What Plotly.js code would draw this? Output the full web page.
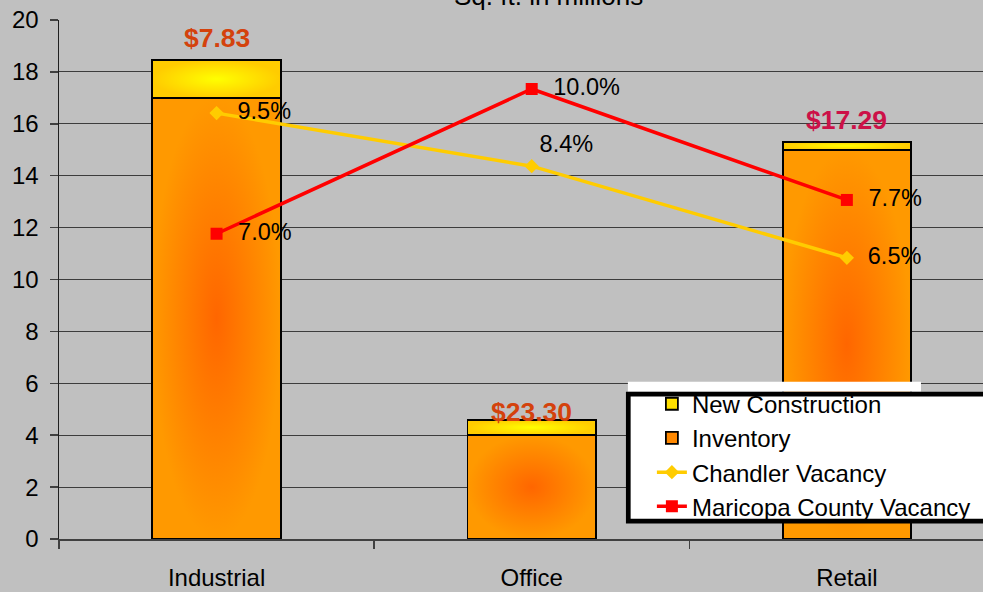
<!DOCTYPE html>
<html>
<head>
<meta charset="utf-8">
<script src="https://cdn.plot.ly/plotly-3.0.1.min.js"></script>
<style>
  html, body { margin: 0; padding: 0; background: #C0C0C0; }
  #chart { width: 983px; height: 592px; }
</style>
</head>
<body>
<div id="chart"></div>
<script>
// ---- data ----
const categories = ['Industrial', 'Office', 'Retail'];
const inventory = [17.0, 4.0, 15.0];            // sq. ft. in millions
const newConstruction = [1.45, 0.6, 0.3];       // sq. ft. in millions
const chandlerVacancy = [9.5, 8.4, 6.5];        // percent
const maricopaVacancy = [7.0, 10.0, 7.7];       // percent
const rentLabels = ['$7.83', '$23.30', '$17.29'];
const yTicks = [0, 2, 4, 6, 8, 10, 12, 14, 16, 18, 20];

// ---- styling ----
const FONT = 'Liberation Sans, Arial, sans-serif';
const rentColors = ['#D4420C', '#D4420C', '#CC1148'];
const rentShift = [5, -9, 5];
const chandlerTextPos = ['middle right', 'top right', 'middle right'];
const chandlerTextTpl = ['  %{text}', '%{text}', '  %{text}'];

const pct = v => v.toFixed(1) + '%';

const traces = [
  {
    type: 'bar', name: 'Inventory', x: categories, y: inventory,
    width: 0.4076, legendrank: 2, legendgroup: 'bars',
    marker: { color: '#FF8800', line: { color: '#000', width: 1.8 } },
    hoverinfo: 'skip'
  },
  {
    type: 'bar', name: 'New Construction', x: categories, y: newConstruction,
    width: 0.4076, legendrank: 1, legendgroup: 'bars',
    marker: { color: '#FFE000', line: { color: '#000', width: 1.8 } },
    hoverinfo: 'skip'
  },
  {
    type: 'scatter', mode: 'lines+markers+text', name: 'Chandler Vacancy',
    x: categories, y: chandlerVacancy, yaxis: 'y2',
    text: chandlerVacancy.map(pct), textposition: chandlerTextPos,
    texttemplate: chandlerTextTpl,
    textfont: { family: FONT, size: 23.5, color: '#000' },
    line: { color: '#FFCC00', width: 3.5 },
    marker: { symbol: 'diamond', size: 11, color: '#FFCC00' },
    legendrank: 3, legendgroup: 'lines', hoverinfo: 'skip', cliponaxis: false
  },
  {
    type: 'scatter', mode: 'lines+markers+text', name: 'Maricopa County Vacancy',
    x: categories, y: maricopaVacancy, yaxis: 'y2',
    text: maricopaVacancy.map(pct), textposition: 'middle right',
    texttemplate: '  %{text}',
    textfont: { family: FONT, size: 23.5, color: '#000' },
    line: { color: '#FF0000', width: 3.5 },
    marker: { symbol: 'square', size: 12, color: '#FF0000' },
    legendrank: 4, legendgroup: 'lines', hoverinfo: 'skip', cliponaxis: false
  }
];

const totals = inventory.map((v, i) => v + newConstruction[i]);
const annotations = categories.map((c, i) => ({
  x: c, y: totals[i], xref: 'x', yref: 'y',
  text: '<b>' + rentLabels[i] + '</b>', showarrow: false,
  yanchor: 'bottom', yshift: rentShift[i],
  font: { family: FONT, size: 26.5, color: rentColors[i] }
}));
annotations.push({
  x: (548.5 - 59.3) / 923.7, y: 1.047, xref: 'paper', yref: 'paper',
  text: 'Sq. ft. in millions', showarrow: false, yanchor: 'middle',
  font: { family: FONT, size: 26, color: '#000' }
});

// pixel -> paper helpers for the decorative legend frame
const PX = px => (px - 59.3) / 923.7;
const PY = py => (539.5 - py) / 519.5;

const layout = {
  width: 983, height: 592,
  margin: { l: 59.3, r: 0, t: 20, b: 52.5, pad: 0 },
  paper_bgcolor: '#C0C0C0', plot_bgcolor: '#C0C0C0',
  barmode: 'stack', showlegend: true, hovermode: false,
  font: { family: FONT, size: 24, color: '#000' },
  xaxis: {
    type: 'category', range: [-0.5, 2.432], tickson: 'boundaries',
    ticks: 'outside', ticklen: 8, tickcolor: '#404040', tickwidth: 1.5,
    showline: true, linecolor: '#404040', linewidth: 1.5,
    showgrid: false, ticklabelstandoff: 17,
    tickfont: { family: FONT, size: 24, color: '#000' }
  },
  yaxis: {
    range: [0, 20], tickvals: yTicks, ticktext: yTicks.map(String),
    ticks: 'outside', ticklen: 8, tickcolor: '#404040', tickwidth: 1.5,
    showline: true, linecolor: '#202020', linewidth: 1.5,
    showgrid: true, gridcolor: '#3C3C3C', gridwidth: 1,
    zeroline: false, ticklabelstandoff: 6,
    tickfont: { family: FONT, size: 24, color: '#000' }
  },
  yaxis2: {
    overlaying: 'y', range: [0.673, 11.43], visible: false, showgrid: false
  },
  legend: {
    x: PX(652), y: PY(382), xanchor: 'left', yanchor: 'top',
    bgcolor: 'rgba(0,0,0,0)', borderwidth: 0,
    traceorder: 'grouped', tracegroupgap: 0,
    font: { family: FONT, size: 24, color: '#000' }
  },
  shapes: [
    {
      type: 'rect', xref: 'paper', yref: 'paper', layer: 'above',
      x0: PX(628), x1: PX(921), y0: PY(392), y1: PY(382),
      fillcolor: '#FFFFFF', line: { width: 0 }
    },
    {
      type: 'rect', xref: 'paper', yref: 'paper', layer: 'above',
      x0: PX(628.4), x1: PX(1000), y0: PY(521.6), y1: PY(394.4),
      fillcolor: '#FFFFFF', line: { color: '#000000', width: 4.7 }
    }
  ],
  annotations: annotations
};

Plotly.newPlot('chart', traces, layout, { displayModeBar: false, staticPlot: true }).then(gd => {
  const ns = 'http://www.w3.org/2000/svg';
  const svg = gd.querySelector('svg.main-svg');
  let defs = svg.querySelector('defs');
  if (!defs) { defs = document.createElementNS(ns, 'defs'); svg.insertBefore(defs, svg.firstChild); }
  function addGrad(id, inner, outer) {
    const g = document.createElementNS(ns, 'radialGradient');
    g.setAttribute('id', id);
    g.setAttribute('cx', '0.5'); g.setAttribute('cy', '0.5'); g.setAttribute('r', '0.5');
    [[0, inner], [1, outer]].forEach(([o, c]) => {
      const s = document.createElementNS(ns, 'stop');
      s.setAttribute('offset', o); s.setAttribute('stop-color', c);
      g.appendChild(s);
    });
    defs.appendChild(g);
  }
  addGrad('gradInv', '#FF6600', '#FF9900');
  addGrad('gradNew', '#FFFF00', '#FFCC00');
  gd.querySelectorAll('.barlayer .trace').forEach(tr => {
    const d = tr.__data__;
    const name = d && d[0] && d[0].trace ? d[0].trace.name : '';
    const id = name === 'Inventory' ? 'gradInv' : 'gradNew';
    tr.querySelectorAll('.point path').forEach(p => { p.style.fill = 'url(#' + id + ')'; });
  });
});
</script>
</body>
</html>
